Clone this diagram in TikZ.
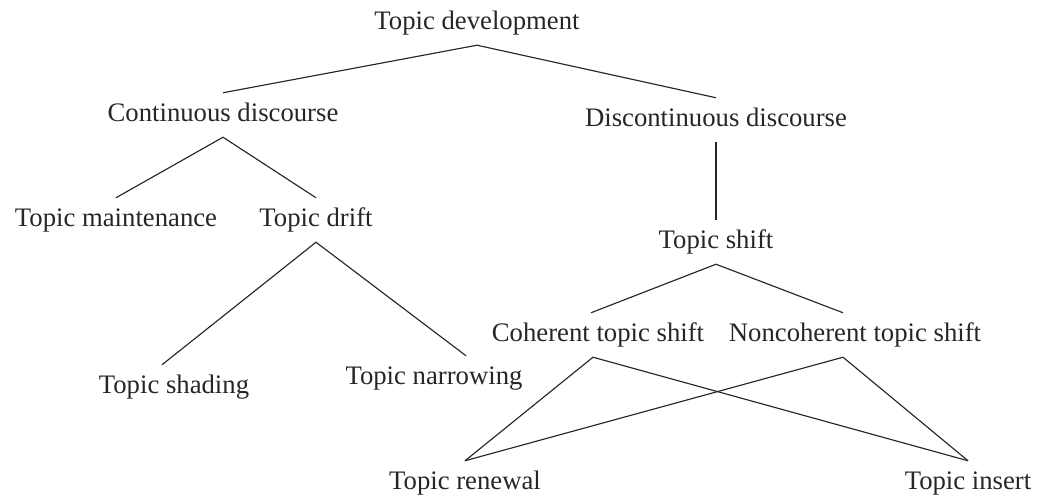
\documentclass[tikz,border=0pt]{standalone}
\usepackage{fontspec}
\setmainfont{Liberation Serif}
\usepackage{tikz}
\usetikzlibrary{positioning}
\definecolor{Ink}{HTML}{262626}

\begin{document}
\begin{tikzpicture}[
    term/.style={font=\fontsize{15.2}{18}\selectfont,text=Ink,inner sep=5.6pt,
                 text height=10.4pt,text depth=3.3pt},
    branch/.style={Ink,line width=0.65pt}]
  \useasboundingbox (0,0) rectangle (20.88,9.94);
  % top level
  \node[term] (td) at (9.54,9.48) {Topic development};
  \node[term] (cd) at (4.46,7.64) {Continuous discourse};
  \node[term] (dd) at (14.32,7.54) {Discontinuous discourse};
  % continuous side
  \node[term] (tm) at (2.32,5.54) {Topic maintenance};
  \node[term] (tdr) at (6.32,5.54) {Topic drift};
  \node[term] (sh) at (3.48,2.20) {Topic shading};
  \node[term] (nr) at (8.68,2.38) {Topic narrowing};
  % discontinuous side
  \node[term] (ts) at (14.32,5.10) {Topic shift};
  \node[term] (cs) at (11.96,3.24) {Coherent topic shift};
  \node[term] (ns) at (17.10,3.24) {Noncoherent topic shift};
  \node[term] (rn) at (9.30,0.28) {Topic renewal};
  \node[term] (ins) at (19.36,0.28) {Topic insert};

  \draw[branch] (cd.north) -- (td.south) -- (dd.north);
  \draw[branch] (tm.north) -- (cd.south) -- (tdr.north);
  \draw[branch] ([xshift=-0.24cm]sh.north) -- (tdr.south) -- ([xshift=0.64cm]nr.north);
  \draw[branch] (dd.south) -- (ts.north);
  \draw[branch] ([xshift=-0.14cm]cs.north) -- (ts.south) -- ([xshift=-0.24cm]ns.north);
  % crossing links
  \draw[branch] (rn.north) -- ([xshift=-0.1cm]cs.south) -- (ins.north);
  \draw[branch] (rn.north) -- ([xshift=-0.24cm]ns.south) -- (ins.north);
\end{tikzpicture}
\end{document}
